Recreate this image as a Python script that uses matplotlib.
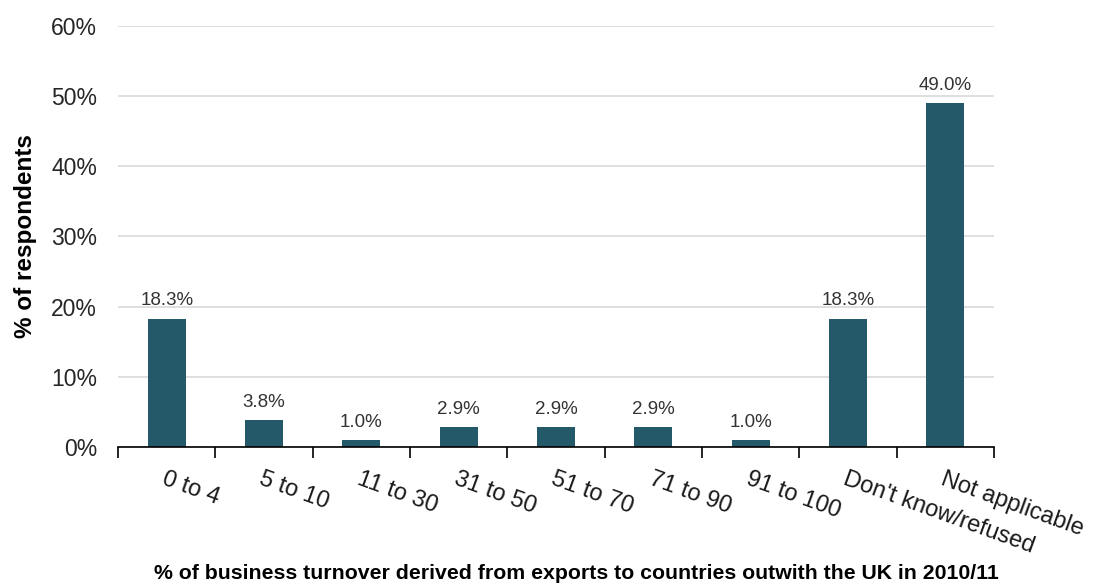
import matplotlib.pyplot as plt
import numpy as np

categories = ["0 to 4", "5 to 10", "11 to 30", "31 to 50", "51 to 70",
              "71 to 90", "91 to 100", "Don't know/refused", "Not applicable"]
values = [18.3, 3.8, 1.0, 2.9, 2.9, 2.9, 1.0, 18.3, 49.0]
y_ticks = [0, 10, 20, 30, 40, 50, 60]

plt.rcParams['font.family'] = ['Liberation Sans', 'DejaVu Sans']

fig = plt.figure(figsize=(10.97, 5.84), dpi=100)
ax = fig.add_axes([0.1076, 0.2346, 0.7985, 0.7209])

x = np.arange(len(categories))
bars = ax.bar(x, values, width=0.39, color='#235968', zorder=3)

for xi, v in zip(x, values):
    ax.text(xi, v + 1.3, f"{v:.1f}%", ha='center', va='bottom',
            fontsize=13.5, color='#333333')

ax.set_xlim(-0.5, len(categories) - 0.5)
ax.set_ylim(0, 60)
ax.set_yticks(y_ticks)
ax.set_yticklabels([f"{t}%" for t in y_ticks], fontsize=16.5, color='#262626')
ax.tick_params(axis='y', length=0, pad=15)
ax.yaxis.grid(True, color='#D9D9D9', linewidth=1.2, zorder=0)

# Category boundaries carry the tick marks; labels sit at bar centres
ax.set_xticks(np.arange(len(categories) + 1) - 0.5)
ax.set_xticklabels([])
ax.tick_params(axis='x', direction='out', length=8, width=1.2, color='#000000')
ax.set_xticks(x, minor=True)
ax.set_xticklabels(categories, minor=True, rotation=-20, ha='left',
                   rotation_mode='anchor', fontsize=17, color='#1a1a1a')
ax.tick_params(axis='x', which='minor', length=0, pad=15)

for side in ['top', 'right', 'left']:
    ax.spines[side].set_visible(False)
ax.spines['bottom'].set_linewidth(1.2)
ax.spines['bottom'].set_zorder(4)

ax.set_ylabel("% of respondents", fontsize=17.5, fontweight='bold', labelpad=10)
fig.text(0.525, 0.018,
         "% of business turnover derived from exports to countries outwith the UK in 2010/11",
         ha='center', va='center', fontsize=15.3, fontweight='bold')

fig.savefig("out.png", dpi=100)
